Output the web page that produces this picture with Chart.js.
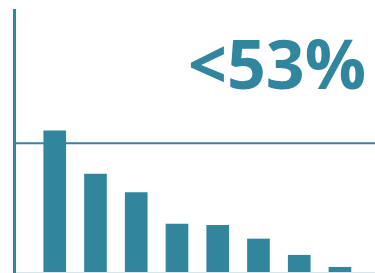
<!DOCTYPE html>
<html>
<head>
<meta charset="utf-8">
<script src="https://cdn.jsdelivr.net/npm/chart.js@4"></script>
<style>
  html, body { margin: 0; padding: 0; background: #ffffff; }
  #wrap { width: 375px; height: 273px; position: relative; }
</style>
</head>
<body>
<div id="wrap"><canvas id="barChart"></canvas></div>
<script>
// data (y scale 0-100)
const positions = [1, 2, 3, 4, 5, 6, 7, 8];
const values = [53.9, 37.4, 30.3, 18.3, 17.8, 12.6, 6.4, 1.8];
const refLevel = 49.1;
const headline = '<53%';

const teal = '#31859c';

// big headline text in the top right corner
const headlinePlugin = {
  id: 'headline',
  afterDraw(chart) {
    const c = chart.ctx;
    c.save();
    c.fillStyle = teal;
    c.font = 'bold 68px "Open Sans"';
    c.textAlign = 'right';
    c.textBaseline = 'alphabetic';
    c.fillText(headline, 366, 89);
    c.restore();
  }
};

const ctx = document.getElementById('barChart').getContext('2d');
const barChart = new Chart(ctx, {
  type: 'bar',
  data: {
    datasets: [
      {
        type: 'bar',
        data: positions.map((p, i) => ({ x: p, y: values[i] })),
        backgroundColor: teal,
        borderWidth: 0,
        barThickness: 22,
        order: 1
      },
      {
        type: 'line',
        data: [{ x: 0, y: refLevel }, { x: 8.86, y: refLevel }],
        borderColor: teal,
        borderWidth: 2,
        pointRadius: 0,
        fill: false,
        order: 2
      }
    ]
  },
  options: {
    responsive: true,
    maintainAspectRatio: false,
    animation: false,
    layout: { padding: { top: 10, left: 14, right: 0, bottom: 1 } },
    plugins: {
      legend: { display: false },
      tooltip: { enabled: false }
    },
    scales: {
      x: {
        type: 'linear',
        offset: false,
        min: 0,
        max: 8.86,
        ticks: { display: false },
        grid: { display: false, drawTicks: false, offset: false },
        border: { display: true, color: '#d3e6ec', width: 1 }
      },
      y: {
        min: 0,
        max: 100,
        ticks: { display: false },
        grid: { display: false, drawTicks: false },
        border: { display: true, color: teal, width: 3 }
      }
    }
  },
  plugins: [headlinePlugin]
});
</script>
</body>
</html>
